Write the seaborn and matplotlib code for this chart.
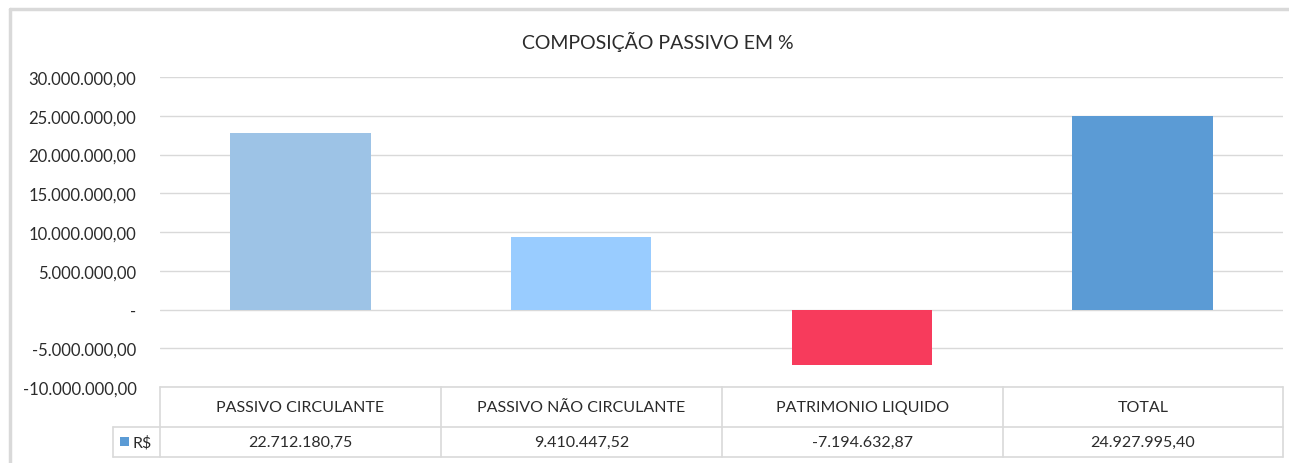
import matplotlib
matplotlib.use('Agg')
import matplotlib.pyplot as plt
import matplotlib.ticker as mticker
from matplotlib.lines import Line2D
from matplotlib.patches import Rectangle
import seaborn as sns

categorias = ['PASSIVO CIRCULANTE', 'PASSIVO NÃO CIRCULANTE', 'PATRIMONIO LIQUIDO', 'TOTAL']
valores = [22712180.75, 9410447.52, -7194632.87, 24927995.40]
cores = ['#9DC3E6', '#99CCFF', '#F73B5C', '#5B9BD5']
serie = 'R$'
cor_serie = '#5B9BD5'
titulo = 'COMPOSIÇÃO PASSIVO EM %'

W, H = 1289, 464
TXT = '#2b2b2b'
LINHA = '#D9D9D9'


def brl(v, pos=None):
    if abs(v) < 1e-6:
        return '-'
    s = f'{v:,.2f}'
    return s.replace(',', 'X').replace('.', ',').replace('X', '.')


def px(x, y):
    # pixel (from top-left) -> figure fraction
    return x / W, 1 - y / H


sns.set_style('white')
plt.rcParams['font.family'] = ['Lato', 'DejaVu Sans']

fig = plt.figure(figsize=(W / 100, H / 100), dpi=100)
ax = fig.add_axes([160 / W, (H - 388) / H, (1283 - 160) / W, 310 / H])

sns.barplot(x=categorias, y=valores, hue=categorias, palette=cores,
            width=0.5, legend=False, saturation=1, linewidth=0, ax=ax, zorder=3)

ax.set_ylim(-10e6, 30e6)
ax.set_yticks([-10e6, -5e6, 0, 5e6, 10e6, 15e6, 20e6, 25e6, 30e6])
ax.yaxis.set_major_formatter(mticker.FuncFormatter(brl))
ax.tick_params(axis='y', length=0, pad=17, labelsize=12, labelcolor=TXT)
ax.set_xticks([])
ax.set_xlabel('')
ax.set_ylabel('')
ax.grid(axis='y', color=LINHA, lw=1)
ax.set_axisbelow(True)
for s in ax.spines.values():
    s.set_visible(False)


def linha(xa, ya, xb, yb, lw=1.2):
    (fa, ga), (fb, gb) = px(xa, ya), px(xb, yb)
    fig.add_artist(Line2D([fa, fb], [ga, gb], transform=fig.transFigure,
                          color=LINHA, lw=lw))


# borda do grafico (topo e esquerda)
linha(10, 10, 1295, 10, lw=2.5)
linha(10, 10, 10, 470, lw=2.5)

# titulo
tx, ty = px(658, 42)
fig.text(tx, ty, titulo, ha='center', va='center', fontsize=14, color=TXT)

# tabela de dados
col_x = [160, 441, 722, 1003, 1283]

linha(160, 388, 1283, 388)
linha(113, 428, 1283, 428)
linha(113, 458, 1283, 458)
for cx in col_x:
    linha(cx, 388, cx, 458)
linha(113, 428, 113, 458)

for i, (cat, v) in enumerate(zip(categorias, valores)):
    xc = (col_x[i] + col_x[i + 1]) / 2
    fx, fy = px(xc, 408)
    fig.text(fx, fy, cat, ha='center', va='center', fontsize=11.5, color=TXT)
    fx, fy = px(xc, 443)
    fig.text(fx, fy, brl(v), ha='center', va='center', fontsize=11.5, color=TXT)

kx, ky = px(120, 447)
fig.add_artist(Rectangle((kx, ky), 9 / W, 9 / H, transform=fig.transFigure,
                         color=cor_serie, lw=0))
fx, fy = px(132, 443)
fig.text(fx, fy, serie, ha='left', va='center', fontsize=11.5, color=TXT)

fig.savefig('out.png', dpi=100, facecolor='white')
